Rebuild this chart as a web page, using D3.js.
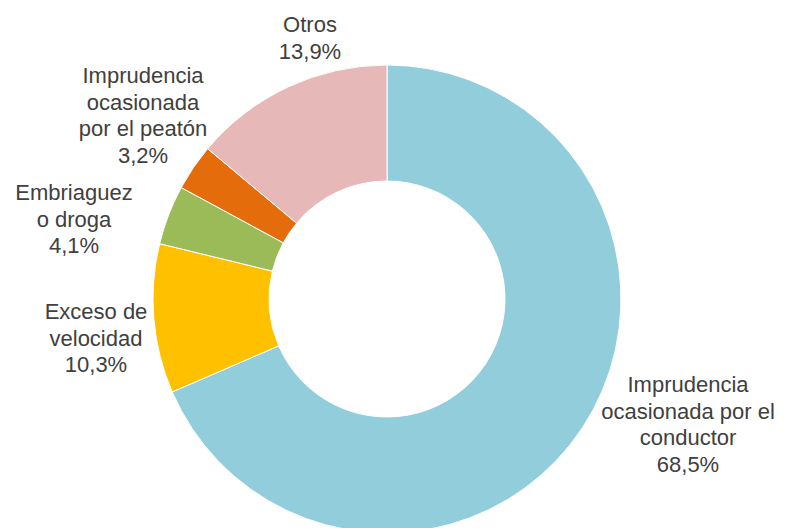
<!DOCTYPE html>
<html>
<head>
<meta charset="utf-8">
<script src="https://cdnjs.cloudflare.com/ajax/libs/d3/7.8.5/d3.min.js"></script>
<style>
  html, body { margin: 0; padding: 0; background: #fff; }
  svg text { font-family: "Liberation Sans", Arial, sans-serif; font-size: 22px; fill: #404040; }
</style>
</head>
<body>
<div id="chart"></div>
<script>
// datos del grafico (orden horario desde arriba)
var causas = ["Imprudencia ocasionada por el conductor", "Exceso de velocidad", "Embriaguez o droga", "Imprudencia ocasionada por el peatón", "Otros"];
var porcentajes = [68.5, 10.3, 4.1, 3.2, 13.9];
var etiquetas = [
  ["Imprudencia", "ocasionada por el", "conductor"],
  ["Exceso de", "velocidad"],
  ["Embriaguez", "o droga"],
  ["Imprudencia", "ocasionada", "por el peatón"],
  ["Otros"]
];
var colores = ["#92CDDC", "#FFC000", "#9BBB59", "#E46C0A", "#E6B9B8"];

var width = 785, height = 528;
var cx = 387, cy = 299, rOut = 234, rIn = 118;

var svg = d3.select("#chart").append("svg")
  .attr("width", width)
  .attr("height", height);

var g = svg.append("g").attr("transform", "translate(" + cx + "," + cy + ")");

var pie = d3.pie().sort(null).value(d => d);
var arc = d3.arc().innerRadius(rIn).outerRadius(rOut);
var arcs = pie(porcentajes);

g.selectAll("path")
  .data(arcs)
  .enter().append("path")
  .attr("d", arc)
  .attr("fill", (d, i) => colores[i])
  .attr("stroke", "#fff")
  .attr("stroke-width", 1);

// posicion de las etiquetas (centro x, linea base de la primera linea)
var labelPos = [
  [688, 392],
  [96, 319],
  [74, 200],
  [143, 83],
  [310, 32]
];
var lineH = 26.7;

var fmt = v => d3.format(".1f")(v).replace(".", ",") + "%";

etiquetas.forEach(function(lines, i) {
  var t = svg.append("text")
    .attr("text-anchor", "middle")
    .attr("x", labelPos[i][0])
    .attr("y", labelPos[i][1]);
  lines.concat([fmt(porcentajes[i])]).forEach(function(l, j) {
    t.append("tspan")
      .attr("x", labelPos[i][0])
      .attr("y", labelPos[i][1] + j * lineH)
      .text(l);
  });
});
</script>
</body>
</html>
